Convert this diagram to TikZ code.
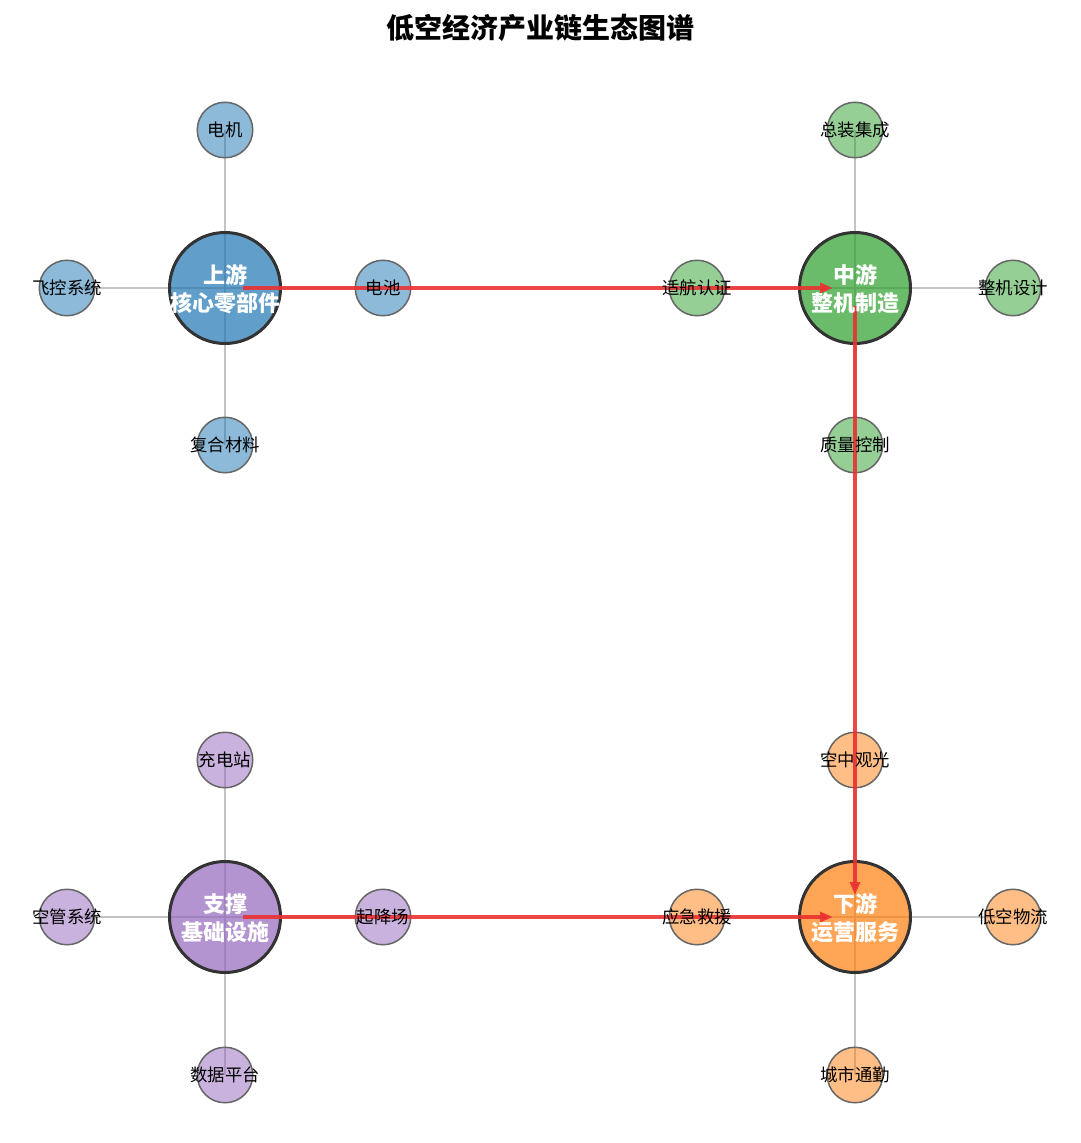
\documentclass[tikz,border=0pt]{standalone}
\usepackage{fontspec}
\setmainfont{Noto Sans CJK SC}
\usetikzlibrary{arrows.meta,backgrounds}
\definecolor{tblue}{HTML}{1F77B4}
\definecolor{tgreen}{HTML}{2CA02C}
\definecolor{torange}{HTML}{FF7F0E}
\definecolor{tpurple}{HTML}{9467BD}
\definecolor{flowred}{RGB}{235,50,50}
\definecolor{linkgray}{RGB}{195,195,195}
\begin{document}
\begin{tikzpicture}[x=1pt,y=-1pt,
  hub/.style={circle, minimum size=111pt, inner sep=0pt, draw=black!80, line width=3pt, fill opacity=0.7},
  sat/.style={circle, minimum size=55.5pt, inner sep=0pt, draw=black!60, line width=1.5pt, fill opacity=0.5},
  link/.style={draw=linkgray, line width=1.5pt},
  flow/.style={draw=flowred, draw opacity=0.9, line width=3.2pt, -{Triangle[length=13pt,width=10pt]}, shorten <=18pt, shorten >=22pt},
  hubtext/.style={font=\bfseries\fontsize{22}{28}\selectfont, text=white, align=center, inner sep=0pt},
  sattext/.style={font=\fontsize{17.4}{19}\selectfont, text=black, inner sep=0pt},
  titletext/.style={font=\bfseries\fontsize{28}{32}\selectfont, inner sep=0pt}]
\useasboundingbox (0,0) rectangle (1080,1143);

\node[titletext] (title) at (540,28) {低空经济产业链生态图谱};

% hub circles
\node[hub, fill=tblue]   (up)   at (225,288) {};
\node[hub, fill=tgreen]  (mid)  at (855,288) {};
\node[hub, fill=tpurple] (sup)  at (225,917) {};
\node[hub, fill=torange] (down) at (855,917) {};

% satellite circles
\node[sat, fill=tblue] (u1) at (225,130) {};
\node[sat, fill=tblue] (u2) at (67,288) {};
\node[sat, fill=tblue] (u3) at (383,288) {};
\node[sat, fill=tblue] (u4) at (225,445) {};

\node[sat, fill=tgreen] (m1) at (855,130) {};
\node[sat, fill=tgreen] (m2) at (697,288) {};
\node[sat, fill=tgreen] (m3) at (1013,288) {};
\node[sat, fill=tgreen] (m4) at (855,445) {};

\node[sat, fill=tpurple] (s1) at (225,760) {};
\node[sat, fill=tpurple] (s2) at (67,917) {};
\node[sat, fill=tpurple] (s3) at (383,917) {};
\node[sat, fill=tpurple] (s4) at (225,1075) {};

\node[sat, fill=torange] (d1) at (855,760) {};
\node[sat, fill=torange] (d2) at (697,917) {};
\node[sat, fill=torange] (d3) at (1013,917) {};
\node[sat, fill=torange] (d4) at (855,1075) {};

% links behind the circles
\begin{pgfonlayer}{background}
\fill[white] (0,0) rectangle (1080,1143);
\foreach \h/\s in {up/u1,up/u2,up/u3,up/u4,mid/m1,mid/m2,mid/m3,mid/m4,
                   sup/s1,sup/s2,sup/s3,sup/s4,down/d1,down/d2,down/d3,down/d4}{
  \draw[link] (\h.center) -- (\s.center);
}
\end{pgfonlayer}

% flow arrows
\draw[flow] (up.center) -- (mid.center);
\draw[flow] (mid.center) -- (down.center);
\draw[flow] (sup.center) -- (down.center);

% labels
\node[hubtext] (upL)   at ([yshift=-1pt]up)   {上游\\核心零部件};
\node[hubtext] (midL)  at ([yshift=-1pt]mid)  {中游\\整机制造};
\node[hubtext] (supL)  at ([yshift=-1pt]sup)  {支撑\\基础设施};
\node[hubtext] (downL) at ([yshift=-1pt]down) {下游\\运营服务};

\node[sattext] (u1L) at (u1) {电机};
\node[sattext] (u2L) at (u2) {飞控系统};
\node[sattext] (u3L) at (u3) {电池};
\node[sattext] (u4L) at (u4) {复合材料};

\node[sattext] (m1L) at (m1) {总装集成};
\node[sattext] (m2L) at (m2) {适航认证};
\node[sattext] (m3L) at (m3) {整机设计};
\node[sattext] (m4L) at (m4) {质量控制};

\node[sattext] (s1L) at (s1) {充电站};
\node[sattext] (s2L) at (s2) {空管系统};
\node[sattext] (s3L) at (s3) {起降场};
\node[sattext] (s4L) at (s4) {数据平台};

\node[sattext] (d1L) at (d1) {空中观光};
\node[sattext] (d2L) at (d2) {应急救援};
\node[sattext] (d3L) at (d3) {低空物流};
\node[sattext] (d4L) at (d4) {城市通勤};
\end{tikzpicture}
\end{document}
